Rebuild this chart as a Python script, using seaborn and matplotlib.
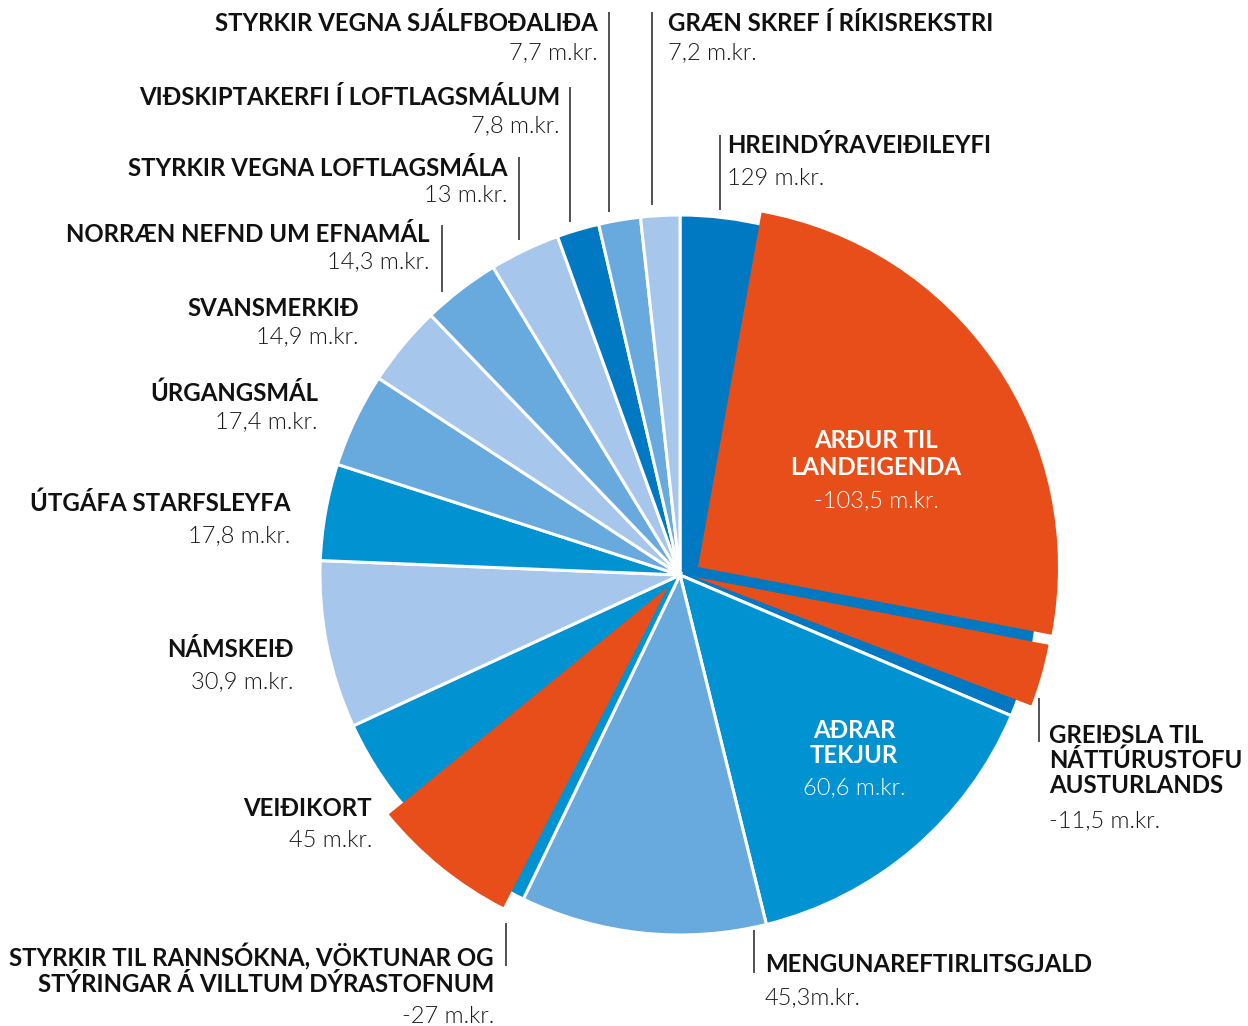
import matplotlib
matplotlib.use("Agg")
import matplotlib.pyplot as plt
import seaborn as sns
from matplotlib import font_manager

# Tekjur (m.kr.), clockwise from the top
categories = ['Hreindýraveiðileyfi', 'Aðrar tekjur', 'Mengunareftirlitsgjald', 'Veiðikort',
              'Námskeið', 'Útgáfa starfsleyfa', 'Úrgangsmál', 'Svansmerkið',
              'Norræn nefnd um efnamál', 'Styrkir vegna loftlagsmála',
              'Viðskiptakerfi í loftlagsmálum', 'Styrkir vegna sjálfboðaliða',
              'Græn skref í ríkisrekstri']
values = [129, 60.6, 45.3, 45, 30.9, 17.8, 17.4, 14.9, 14.3, 13, 7.8, 7.7, 7.2]

# Greiðslur út (m.kr.), drawn on top of the slice they come from
outflows = ['Arður til landeigenda', 'Greiðsla til Náttúrustofu Austurlands',
            'Styrkir til rannsókna, vöktunar og stýringar á villtum dýrastofnum']
outflow_values = [103.5, 11.5, 27]
outflow_parent = ['Hreindýraveiðileyfi', 'Hreindýraveiðileyfi', 'Veiðikort']

value_text = ['129 m.kr.', '60,6 m.kr.', '45,3m.kr.', '45 m.kr.', '30,9 m.kr.', '17,8 m.kr.',
              '17,4 m.kr.', '14,9 m.kr.', '14,3 m.kr.', '13 m.kr.', '7,8 m.kr.', '7,7 m.kr.',
              '7,2 m.kr.']
outflow_text = ['-103,5 m.kr.', '-11,5 m.kr.', '-27 m.kr.']

DARK, MID, MIDLIGHT, LIGHT = '#0079C2', '#0092D1', '#68AADD', '#A6C7EB'
ORANGE = '#E84E19'
slice_colors = [DARK, MID, MIDLIGHT, MID, LIGHT, MID, MIDLIGHT, LIGHT, MIDLIGHT, LIGHT,
                DARK, MIDLIGHT, LIGHT]

sns.set_theme(style="white")
installed = {f.name for f in font_manager.fontManager.ttflist}
FAMILY = next((n for n in ['Lato', 'Open Sans', 'Roboto Condensed', 'Noto Sans']
               if n in installed), 'DejaVu Sans')
plt.rcParams['font.family'] = [FAMILY, 'DejaVu Sans']

W, H = 1248, 1026
CX, CY, R = 680, 575, 360  # pie centre and radius in pixels


def px(x, y):
    return (x - CX) / R, (CY - y) / R


fig = plt.figure(figsize=(W / 100, H / 100), dpi=100)
ax = fig.add_axes([0, 0, 1, 1])

ax.pie(values, colors=slice_colors, startangle=90, counterclock=False, radius=1,
       wedgeprops=dict(edgecolor='white', linewidth=2.2))

# where each outflow starts inside its parent slice (m.kr. from the parent's start)
lead = [11.6, 115.1, 1.6]
shift_px = [(18, -8), (15, 2), (-12, 12)]
total = sum(values)
starts = {c: sum(values[:i]) for i, c in enumerate(categories)}
for val, parent, ld, (dx, dy) in zip(outflow_values, outflow_parent, lead, shift_px):
    before = starts[parent] + ld
    after = total - before - val
    ax.pie([before, val, after], colors=['none', ORANGE, 'none'], startangle=90,
           counterclock=False, radius=1, center=(dx / R, -dy / R),
           wedgeprops=dict(linewidth=0))

# labels: x, ha, baselines of name lines, baseline of value line, colour
BOLD, LIGHTW = 17.3, 17
labels = [
    (['HREINDÝRAVEIÐILEYFI'], value_text[0], 727, 'left', [153], 185, 'black'),
    (['AÐRAR', 'TEKJUR'], value_text[1], 854, 'center', [738, 763], 794, 'white'),
    (['MENGUNAREFTIRLITSGJALD'], value_text[2], 765, 'left', [972], 1004, 'black'),
    (['VEIÐIKORT'], value_text[3], 372, 'right', [816], 847, 'black'),
    (['NÁMSKEIÐ'], value_text[4], 294, 'right', [657], 688, 'black'),
    (['ÚTGÁFA STARFSLEYFA'], value_text[5], 290, 'right', [511], 542, 'black'),
    (['ÚRGANGSMÁL'], value_text[6], 318, 'right', [401], 428, 'black'),
    (['SVANSMERKIÐ'], value_text[7], 359, 'right', [316], 343, 'black'),
    (['NORRÆN NEFND UM EFNAMÁL'], value_text[8], 430, 'right', [242], 268, 'black'),
    (['STYRKIR VEGNA LOFTLAGSMÁLA'], value_text[9], 508, 'right', [176], 202, 'black'),
    (['VIÐSKIPTAKERFI Í LOFTLAGSMÁLUM'], value_text[10], 560, 'right', [105], 132, 'black'),
    (['STYRKIR VEGNA SJÁLFBOÐALIÐA'], value_text[11], 598, 'right', [31], 59, 'black'),
    (['GRÆN SKREF Í RÍKISREKSTRI'], value_text[12], 668, 'left', [31], 59, 'black'),
    (['ARÐUR TIL', 'LANDEIGENDA'], outflow_text[0], 876, 'center', [448, 475], 507, 'white'),
    (['GREIÐSLA TIL', 'NÁTTÚRUSTOFU', 'AUSTURLANDS'], outflow_text[1], 1049, 'left',
     [743, 768, 793], 827, 'black'),
    (['STYRKIR TIL RANNSÓKNA, VÖKTUNAR OG', 'STÝRINGAR Á VILLTUM DÝRASTOFNUM'],
     outflow_text[2], 494, 'right', [966, 992], 1023, 'black'),
]
for lines, val, x, ha, ys, yv, col in labels:
    for s, y in zip(lines, ys):
        ax.text(*px(x, y), s, ha=ha, va='baseline', fontsize=BOLD, fontweight='bold',
                color=col if col == 'white' else '#111111')
    ax.text(*px(x, yv), val, ha=ha, va='baseline', fontsize=LIGHTW, fontweight=300,
            color=col if col == 'white' else '#1a1a1a')

# leader lines (x, top, bottom) in pixels
leaders = [(609, 12, 212), (652, 12, 205), (570, 87, 222), (720, 135, 210),
           (519, 157, 240), (442, 225, 292), (506, 923, 966), (754, 930, 973),
           (1039, 698, 742)]
for x, y0, y1 in leaders:
    (xa, ya), (xb, yb) = px(x, y0), px(x, y1)
    ax.plot([xa, xb], [ya, yb], color='#222222', linewidth=1.1, solid_capstyle='butt')

ax.set_xlim(-CX / R, (W - CX) / R)
ax.set_ylim(-(H - CY) / R, CY / R)
ax.set_aspect('equal')
ax.axis('off')

fig.savefig('out.png', dpi=100, facecolor='white')
